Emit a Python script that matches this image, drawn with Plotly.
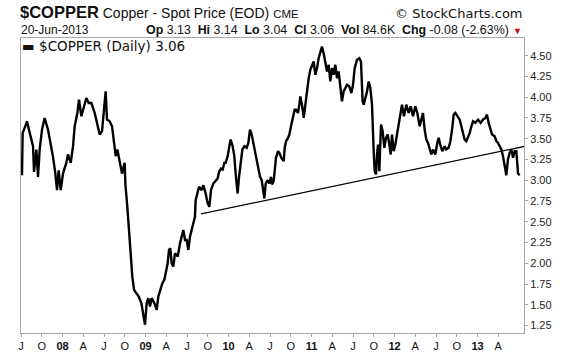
import plotly.graph_objects as go

# ---- data (decimal year, price) ----
dates = [
2007.512,2007.520,2007.544,2007.572,2007.605,2007.645,2007.657,2007.685,2007.705,2007.725,
2007.753,2007.785,2007.825,2007.858,2007.886,2007.914,2007.934,2007.954,2007.978,2008.006,
2008.046,2008.066,2008.099,2008.127,2008.147,2008.179,2008.199,2008.227,2008.255,2008.287,
2008.315,2008.348,2008.388,2008.420,2008.448,2008.476,2008.500,2008.520,2008.536,2008.568,
2008.597,2008.617,2008.641,2008.661,2008.689,2008.717,2008.749,2008.757,2008.781,2008.801,
2008.821,2008.841,2008.862,2008.890,2008.918,2008.950,2008.974,2008.994,
2009.014,2009.034,2009.054,2009.074,2009.106,2009.135,2009.155,2009.175,2009.203,2009.227,
2009.243,2009.267,2009.283,2009.299,2009.315,2009.335,2009.355,2009.388,2009.416,2009.436,
2009.456,2009.476,2009.496,2009.516,2009.536,2009.556,2009.576,2009.596,2009.604,2009.625,
2009.645,2009.677,2009.697,2009.725,2009.749,2009.769,2009.789,2009.817,2009.845,2009.869,
2009.886,2009.910,2009.930,2009.950,2009.966,2009.990,2010.010,2010.026,2010.050,2010.070,
2010.086,2010.102,2010.110,2010.127,2010.151,2010.167,2010.191,2010.219,2010.239,2010.259,
2010.279,2010.299,2010.319,2010.339,2010.359,2010.380,2010.400,2010.420,2010.432,2010.448,
2010.472,2010.492,2010.512,
2010.524,2010.544,2010.556,2010.572,2010.596,2010.612,2010.636,2010.665,2010.677,2010.693,
2010.717,2010.733,2010.757,2010.777,2010.797,2010.813,2010.837,2010.853,2010.865,2010.885,
2010.906,2010.926,2010.946,2010.966,2010.986,2011.006,2011.026,2011.046,2011.066,2011.086,
2011.106,2011.126,2011.146,2011.167,2011.187,2011.207,2011.227,2011.247,2011.267,2011.287,
2011.307,2011.327,2011.347,2011.367,2011.387,2011.408,2011.428,2011.456,2011.480,2011.500,
2011.520,2011.548,2011.576,2011.596,2011.608,2011.616,2011.629,2011.649,2011.669,2011.689,
2011.709,2011.729,2011.737,2011.749,2011.761,2011.777,2011.789,2011.801,2011.817,2011.837,
2011.857,2011.877,2011.898,2011.918,2011.938,2011.954,2011.970,2011.990,2012.010,2012.030,
2012.050,2012.070,2012.090,
2012.114,2012.142,2012.170,2012.195,2012.223,2012.251,2012.275,2012.303,2012.323,2012.343,
2012.363,2012.383,2012.403,2012.424,2012.444,2012.464,2012.492,2012.516,2012.532,2012.556,
2012.576,2012.604,2012.624,2012.652,2012.673,2012.693,2012.713,2012.733,2012.757,2012.785,
2012.805,2012.825,2012.845,2012.865,2012.885,2012.906,2012.926,2012.946,2012.974,2013.006,
2013.038,2013.066,2013.094,2013.114,2013.134,2013.154,2013.175,2013.207,2013.227,2013.247,
2013.267,2013.287,2013.307,2013.327,2013.347,2013.367,2013.387,2013.408,2013.428,2013.448,
2013.468,2013.488,2013.508,
]
prices = [
3.06,3.57,3.63,3.71,3.57,3.41,3.10,3.37,3.04,3.37,
3.61,3.75,3.61,3.45,3.28,3.08,2.88,3.12,2.88,3.08,
3.21,3.31,3.21,3.41,3.65,3.81,3.97,3.77,3.87,3.99,
3.93,3.93,3.81,3.67,3.55,3.59,3.85,4.07,3.73,3.71,
3.65,3.47,3.29,3.37,3.21,3.08,3.21,2.96,2.68,2.36,
2.08,1.84,1.68,1.64,1.60,1.52,1.36,1.26,
1.52,1.58,1.48,1.58,1.52,1.44,1.60,1.68,1.76,1.80,
1.88,2.00,2.16,2.18,2.00,1.96,2.12,2.08,2.24,2.32,
2.40,2.28,2.28,2.16,2.32,2.40,2.48,2.56,2.76,2.86,
2.92,2.88,2.94,2.84,2.72,2.68,2.88,2.96,3.00,3.02,
3.10,3.14,3.13,3.21,3.21,3.29,3.41,3.49,3.41,3.29,
3.08,2.88,2.84,3.04,3.29,3.37,3.41,3.39,3.45,3.61,
3.55,3.45,3.33,3.25,3.13,3.04,3.00,2.88,2.78,2.96,
3.00,2.96,3.04,
2.95,2.99,3.11,3.27,3.35,3.33,3.27,3.23,3.39,3.47,
3.51,3.55,3.67,3.77,3.85,3.85,3.81,3.91,4.01,3.91,
3.75,3.91,4.11,4.23,4.33,4.39,4.43,4.27,4.35,4.47,
4.55,4.61,4.53,4.43,4.31,4.39,4.19,4.35,4.27,4.39,
4.23,4.31,4.15,3.95,4.07,4.11,4.15,4.13,4.05,4.15,
4.35,4.45,4.47,4.43,4.19,3.95,3.91,3.99,4.07,4.19,
4.11,3.91,3.63,3.35,3.11,3.07,3.31,3.43,3.11,3.67,
3.59,3.39,3.51,3.55,3.43,3.31,3.55,3.35,3.43,3.55,
3.71,3.83,3.91,
3.77,3.91,3.81,3.89,3.77,3.89,3.81,3.65,3.73,3.81,
3.61,3.49,3.45,3.39,3.31,3.37,3.31,3.45,3.51,3.41,
3.35,3.41,3.37,3.39,3.47,3.61,3.79,3.81,3.77,3.73,
3.65,3.57,3.49,3.47,3.51,3.57,3.65,3.71,3.69,3.73,
3.69,3.73,3.75,3.79,3.69,3.61,3.55,3.53,3.47,3.45,
3.41,3.37,3.29,3.16,3.06,3.25,3.33,3.37,3.27,3.35,
3.35,3.08,3.06,
]

trend_dates = [2009.669, 2013.60]
trend_values = [2.595, 3.415]

x_tickvals = [2007.5 + 0.25 * i for i in range(24)]
x_ticktext = ["J", "O", "<b>08</b>", "A", "J", "O", "<b>09</b>", "A", "J", "O",
              "<b>10</b>", "A", "J", "O", "<b>11</b>", "A", "J", "O", "<b>12</b>", "A",
              "J", "O", "<b>13</b>", "A"]
y_tickvals = [1.25, 1.50, 1.75, 2.00, 2.25, 2.50, 2.75, 3.00, 3.25, 3.50, 3.75, 4.00, 4.25, 4.50]
y_ticktext = ["%.2f" % v for v in y_tickvals]

# ---- figure ----
W, H = 575, 355
L, R, T, B = 21, 524, 38, 333

def pxx(x):
    return (x - L) / (R - L)

def pyy(y):
    return (B - y) / (B - T)

fig = go.Figure()
fig.add_trace(go.Scatter(x=dates, y=prices, mode="lines",
                         line=dict(color="black", width=2.4), showlegend=False,
                         hoverinfo="skip"))
fig.add_trace(go.Scatter(x=trend_dates, y=trend_values, mode="lines",
                         line=dict(color="black", width=1.3), showlegend=False,
                         hoverinfo="skip"))

axis_col = "#a8a8a8"
fig.update_layout(
    template="none",
    width=W, height=H,
    margin=dict(l=L, r=W - R, t=T, b=H - B, pad=0),
    paper_bgcolor="white", plot_bgcolor="white",
    font=dict(family="Liberation Sans, Arial", color="#111111"),
    xaxis=dict(range=[2007.5, 2013.56], tickvals=x_tickvals, ticktext=x_ticktext,
               automargin=False,
               showgrid=False, zeroline=False, showline=True, linecolor=axis_col,
               linewidth=1, mirror=True, ticks="outside", ticklen=3,
               tickcolor=axis_col, tickfont=dict(size=11, color="#111111")),
    yaxis=dict(range=[1.16, 4.713], tickvals=y_tickvals, ticktext=y_ticktext,
               automargin=False,
               side="right", showgrid=False, zeroline=False, showline=True,
               linecolor=axis_col, linewidth=1, mirror=True, ticks="outside",
               ticklen=3, tickcolor=axis_col, tickfont=dict(size=11, color="#222222")),
)

def ann(text, x, y, size, anchor="left", family="Liberation Sans, Arial", color="#111111"):
    fig.add_annotation(text=text, x=pxx(x), y=pyy(y), xref="paper", yref="paper",
                       xanchor=anchor, yanchor="middle", showarrow=False,
                       font=dict(size=size, family=family, color=color),
                       borderpad=0, borderwidth=0)

ann("<span style='font-size:16.5px'><b>$COPPER</b></span> Copper - Spot Price (EOD) "
    "<span style='font-size:11.5px'>CME</span>", 20, 12, 14)
ann("© StockCharts.com", 523, 13, 13, anchor="right", family="DejaVu Sans")
ann("20-Jun-2013", 21, 30, 12)
ann("<b>Op</b> 3.13&nbsp;&nbsp;<b>Hi</b> 3.14&nbsp;&nbsp;<b>Lo</b> 3.04&nbsp;&nbsp;"
    "<b>Cl</b> 3.06&nbsp;&nbsp;<b>Vol</b> 84.6K&nbsp;&nbsp;<b>Chg</b> -0.08 (-2.63%)",
    509, 30, 12.4, anchor="right")
ann("▼", 522, 31, 9, anchor="right", color="#cc0000")
ann("▬ $COPPER (Daily) 3.06", 22, 46, 13.5, family="DejaVu Sans")

# remove the browser's default 8px body margin so the figure sits at the page origin
fig.write_html("out.html",
               config={"displayModeBar": False, "staticPlot": True},
               post_script="document.body.style.margin='0';document.body.style.overflow='hidden';")
